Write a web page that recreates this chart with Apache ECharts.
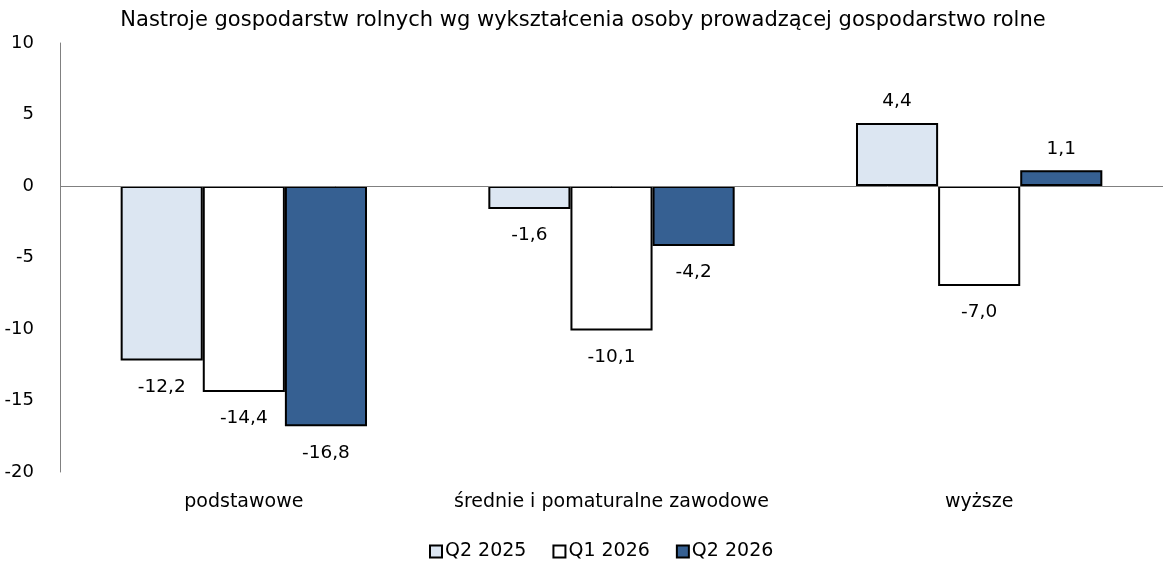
<!DOCTYPE html>
<html>
<head>
<meta charset="utf-8">
<script src="https://cdn.jsdelivr.net/npm/echarts@6/dist/echarts.min.js"></script>
<style>
  html, body { margin: 0; padding: 0; background: #fff; }
  #chart { width: 1166px; height: 577px; }
</style>
</head>
<body>
<div id="chart"></div>
<script>
const categories = ['podstawowe', 'średnie i pomaturalne zawodowe', 'wyższe']
const seriesNames = ['Q2 2025', 'Q1 2026', 'Q2 2026']
const q2_2025 = [-12.2, -1.6, 4.4]
const q1_2026 = [-14.4, -10.1, -7.0]
const q2_2026 = [-16.8, -4.2, 1.1]
const colors = ['#DCE6F2', '#FFFFFF', '#366092']

const font = 'DejaVu Sans'
const chart = echarts.init(document.getElementById('chart'))

function makeSeries(name, data, color, withZeroLine) {
  const s = {
    name: name,
    type: 'bar',
    barGap: '0%',
    barCategoryGap: '33%',
    itemStyle: { color: color, borderColor: '#000', borderWidth: 2 },
    label: {
      show: true,
      fontFamily: font,
      fontSize: 18.5,
      color: '#000',
      formatter: p => p.value.toFixed(1).replace('.', ',')
    }
  }
  // negative values get their label under the bar
  s.data = data.map(v => ({
    value: v,
    label: v < 0 ? { position: 'bottom', distance: 17 } : { position: 'top', distance: 12 }
  }))
  if (withZeroLine) {
    s.markLine = {
      silent: true,
      symbol: 'none',
      label: { show: false },
      lineStyle: { color: '#808080', width: 1, type: 'solid' },
      data: [{ yAxis: 0 }]
    }
  }
  return s
}

chart.setOption({
  animation: false,
  title: {
    text: 'Nastroje gospodarstw rolnych wg wykształcenia osoby prowadzącej gospodarstwo rolne',
    left: 'center',
    top: 5,
    textStyle: { fontFamily: font, fontSize: 21, fontWeight: 'normal', color: '#000' }
  },
  legend: {
    data: seriesNames,
    bottom: 11,
    left: 424,
    icon: 'rect',
    itemWidth: 12,
    itemHeight: 12,
    itemGap: 26,
    textStyle: { fontFamily: font, fontSize: 19, color: '#000', padding: [0, 0, 0, -2] }
  },
  grid: { left: 60, right: 3, top: 43, bottom: 105 },
  xAxis: {
    type: 'category',
    data: categories,
    axisLine: { show: false, onZero: false },
    axisTick: { show: false },
    axisLabel: { interval: 0, fontFamily: font, fontSize: 19, color: '#000', margin: 21 }
  },
  yAxis: {
    type: 'value',
    min: -20,
    max: 10,
    interval: 5,
    axisLine: { show: true, lineStyle: { color: '#808080' } },
    axisTick: { show: false },
    splitLine: { show: false },
    axisLabel: { fontFamily: font, fontSize: 18, color: '#000', margin: 26 }
  },
  series: [
    makeSeries(seriesNames[0], q2_2025, colors[0], true),
    makeSeries(seriesNames[1], q1_2026, colors[1], false),
    makeSeries(seriesNames[2], q2_2026, colors[2], false)
  ]
})
</script>
</body>
</html>
